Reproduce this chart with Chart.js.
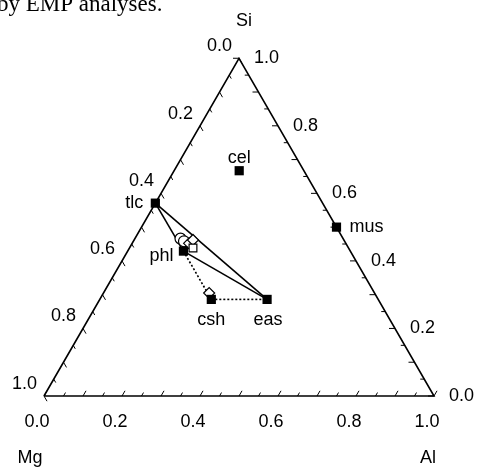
<!DOCTYPE html>
<html>
<head>
<meta charset="utf-8">
<script src="https://cdn.jsdelivr.net/npm/chart.js@4"></script>
<style>
  body { margin: 0; background: #fff; }
  #wrap { width: 480px; height: 467px; position: relative; }
</style>
</head>
<body>
<div id="wrap"><canvas id="myChart"></canvas></div>
<script>
// end-member compositions (atomic fractions, Mg = 1 - Si - Al)
const endNames = ['tlc', 'phl', 'csh', 'eas', 'mus', 'cel'];
const endSi = [0.571, 0.429, 0.286, 0.286, 0.5, 0.667];
const endAl = [0.0, 0.143, 0.286, 0.429, 0.5, 0.167];

// EMP analyses (open symbols)
const anSi = [0.466, 0.458, 0.452, 0.462, 0.438, 0.305];
const anAl = [0.117, 0.130, 0.146, 0.151, 0.163, 0.271];
const anStyle = ['circle', 'circle', 'rectRot', 'rectRot', 'rect', 'rectRot'];

// tie lines
const solidTies = [['tlc', 'eas'], ['tlc', 'phl'], ['phl', 'eas']];
const dottedTies = [['phl', 'csh'], ['csh', 'eas']];

// axis ticks
const tickVals = [0, 0.2, 0.4, 0.6, 0.8, 1.0];
const tickLabels = ['0.0', '0.2', '0.4', '0.6', '0.8', '1.0'];
const cornerNames = ['Mg', 'Al', 'Si'];

const H = Math.sqrt(3) / 2;
function tern(si, al) {
  return { x: al + si / 2, y: si * H };
}
function endPt(name) {
  const i = endNames.indexOf(name);
  return tern(endSi[i], endAl[i]);
}

const datasets = [];

datasets.push({
  data: [tern(0, 0), tern(0, 1), tern(1, 0), tern(0, 0)],
  showLine: true, borderColor: '#000', borderWidth: 1.6,
  pointRadius: 0, order: 5
});

solidTies.forEach(p => datasets.push({
  data: [endPt(p[0]), endPt(p[1])],
  showLine: true, borderColor: '#000', borderWidth: 1.6,
  pointRadius: 0, order: 4
}));

dottedTies.forEach(p => datasets.push({
  data: [endPt(p[0]), endPt(p[1])],
  showLine: true, borderColor: '#000', borderWidth: 1.6, borderDash: [2, 2],
  pointRadius: 0, order: 4
}));

datasets.push({
  data: anSi.map((s, i) => tern(s, anAl[i])),
  pointStyle: anStyle, pointRadius: 5.5, borderWidth: 1.2,
  borderColor: '#000', backgroundColor: '#fff', order: 3
});

datasets.push({
  data: endNames.map((n, i) => tern(endSi[i], endAl[i])),
  pointStyle: 'rect', pointRadius: 6.5, borderWidth: 0,
  backgroundColor: '#000', borderColor: '#000', order: 1
});

const ternaryDecor = {
  id: 'ternaryDecor',
  afterDatasetsDraw(chart) {
    const c = chart.ctx;
    const xs = chart.scales.x, ys = chart.scales.y;
    const px = p => [xs.getPixelForValue(p.x), ys.getPixelForValue(p.y)];
    c.save();
    c.strokeStyle = '#000';
    c.lineWidth = 1;
    c.fillStyle = '#000';

    // ticks
    for (let k = 0; k <= 20; k++) {
      const t = k / 20;
      const len = k % 2 === 0 ? 6 : 4;
      const edges = [
        [tern(0, t), 0.5, -H],        // bottom (Al)
        [tern(t, 1 - t), -1, 0],      // right (Si)
        [tern(1 - t, 0), 0.5, H]      // left (Mg)
      ];
      edges.forEach(e => {
        const [x, y] = px(e[0]);
        c.beginPath();
        c.moveTo(x, y);
        c.lineTo(x + e[1] * len, y + e[2] * len);
        c.stroke();
      });
    }

    // tick labels
    c.font = '18px "Liberation Sans", Arial, sans-serif';
    c.textBaseline = 'middle';
    tickVals.forEach((t, i) => {
      let [x, y] = px(tern(0, t));
      c.textAlign = 'center';
      c.fillText(tickLabels[i], x - 7, y + 26);
      [x, y] = px(tern(t, 1 - t));
      c.textAlign = 'left';
      c.fillText(tickLabels[i], x + 15, y);
      [x, y] = px(tern(1 - t, 0));
      c.textAlign = 'right';
      c.fillText(tickLabels[i], x - 7, y - 12);
    });

    // corner labels
    c.textAlign = 'center';
    const corners = [[tern(0, 0), -14, 62], [tern(0, 1), -6, 62], [tern(1, 0), 5, -37]];
    corners.forEach((cn, i) => {
      const [x, y] = px(cn[0]);
      c.fillText(cornerNames[i], x + cn[1], y + cn[2]);
    });

    // end-member labels
    const lab = {
      tlc: ['right', -12, 0], phl: ['right', -10, 5], csh: ['center', 0, 21],
      eas: ['center', 1, 21], mus: ['left', 13, 0], cel: ['center', 0, -13]
    };
    endNames.forEach(n => {
      const [x, y] = px(endPt(n));
      c.textAlign = lab[n][0];
      c.fillText(n, x + lab[n][1], y + lab[n][2]);
    });

    // caption fragment from the page above
    c.font = '23px "Liberation Serif", "Times New Roman", serif';
    c.textAlign = 'left';
    c.textBaseline = 'alphabetic';
    c.fillText('by EMP analyses.', -3, 11);
    c.restore();
  }
};

const ctx = document.getElementById('myChart');

new Chart(ctx, {
  type: 'scatter',
  data: { datasets: datasets },
  options: {
    responsive: true,
    maintainAspectRatio: false,
    animation: false,
    layout: { padding: 0, autoPadding: false },
    plugins: { legend: { display: false }, tooltip: { enabled: false } },
    scales: {
      x: { display: false, min: -44 / 390, max: 436 / 390 },
      y: { display: false, min: -71 / 390, max: 396 / 390 }
    }
  },
  plugins: [ternaryDecor]
});
</script>
</body>
</html>
